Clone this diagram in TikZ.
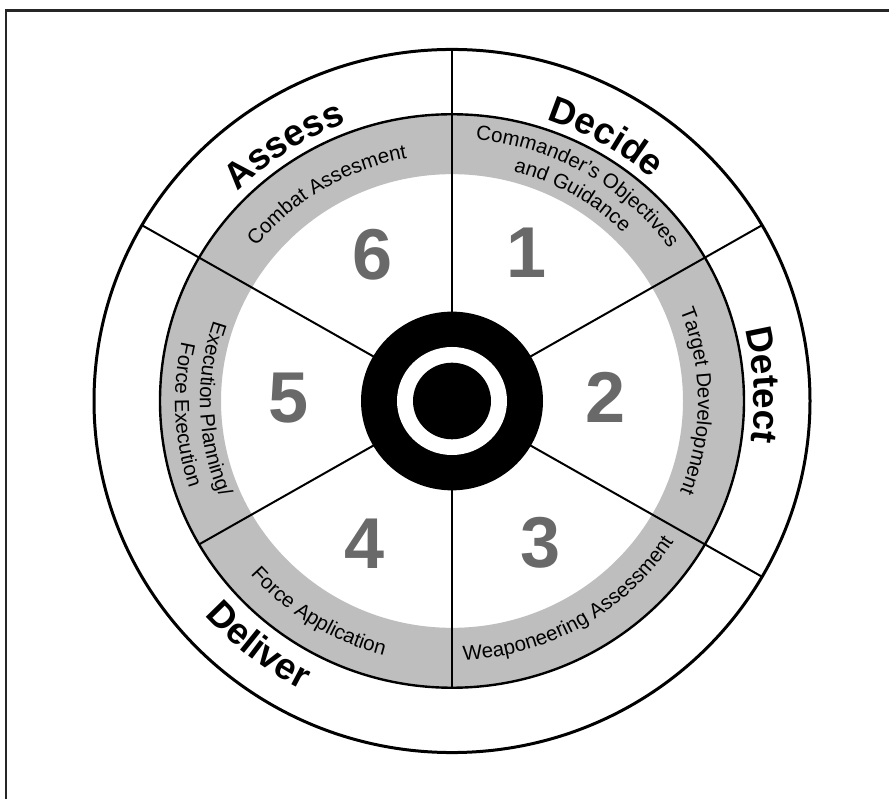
\documentclass[tikz,border=0pt]{standalone}
\usepackage{fontspec}
\setmainfont{Liberation Sans}
\usetikzlibrary{decorations.text}
\definecolor{bandgray}{RGB}{190,190,190}
\definecolor{numgray}{RGB}{105,105,105}
\newcommand\LblBig{\fontsize{37}{37}\selectfont\bfseries}
\newcommand\LblSmall{\fontsize{20.5}{20.5}\selectfont}
\begin{document}
\begin{tikzpicture}[x=1pt,y=1pt,
  arctext/.style={decorate,decoration={text along path,text={#1},text align=center}},
  divider/.style={line width=2pt},
  numlbl/.style={font=\fontsize{72}{72}\selectfont\bfseries,text=numgray,inner sep=0pt},
]
\useasboundingbox (0,0) rectangle (889,798);
\fill[white] (0,0) rectangle (889,798);
% frame (left and top edges)
\draw[line width=2.2pt,black!85] (6,-2) -- (6,787.5) -- (891,787.5);

\begin{scope}[shift={(452,397)},yscale=0.982]
  % gray band
  \fill[bandgray,even odd rule] (0,0) circle[radius=292] (0,0) circle[radius=231];
  \draw[line width=3pt] (0,0) circle[radius=358];
  \draw[line width=2.4pt] (0,0) circle[radius=292];
  % dividers
  \foreach \a in {90,30,-30,150} \draw[divider] (\a:85) -- (\a:358);
  \foreach \a in {210,270} \draw[divider] (\a:85) -- (\a:292);
  % hub
  \fill[black] (0,0) circle[radius=91];
  \fill[white] (0,0) circle[radius=55];
  \fill[black] (0,0) circle[radius=39];
  % outer phase labels
  \path[arctext={|\LblBig|Assess}] (163:302) arc[start angle=163,end angle=83,radius=302];
  \path[arctext={|\LblBig|Decide}] (100:302) arc[start angle=100,end angle=20,radius=302];
  \path[arctext={|\LblBig|Detect}] (43:302) arc[start angle=43,end angle=-37,radius=302];
  \path[arctext={|\LblBig|Deliver}] (192:330) arc[start angle=192,end angle=272,radius=330];
  % band labels
  \path[arctext={|\LblSmall|Combat Assesment}] (171:251) arc[start angle=171,end angle=71,radius=251];
  \path[arctext={|\LblSmall|Commander's Objectives}] (115:267) arc[start angle=115,end angle=5,radius=267];
  \path[arctext={|\LblSmall|and Guidance}] (100:242) arc[start angle=100,end angle=20,radius=242];
  \path[arctext={|\LblSmall|Target Development}] (50:246) arc[start angle=50,end angle=-50,radius=246];
  \path[arctext={|\LblSmall|Execution Planning/}] (132:252) arc[start angle=132,end angle=232,radius=252];
  \path[arctext={|\LblSmall|Force Execution}] (133:277) arc[start angle=133,end angle=233,radius=277];
  \path[arctext={|\LblSmall|Force Application}] (188:268) arc[start angle=188,end angle=288,radius=268];
  \path[arctext={|\LblSmall|Weaponeering Assessment}] (245:264) arc[start angle=245,end angle=355,radius=264];
\end{scope}

% step numbers
\node[numlbl] (n1) at (527,545) {1};
\node[numlbl] (n2) at (606,401) {2};
\node[numlbl] (n3) at (541,255) {3};
\node[numlbl] (n4) at (365,254) {4};
\node[numlbl] (n5) at (289,400) {5};
\node[numlbl] (n6) at (373,543) {6};
\end{tikzpicture}
\end{document}
